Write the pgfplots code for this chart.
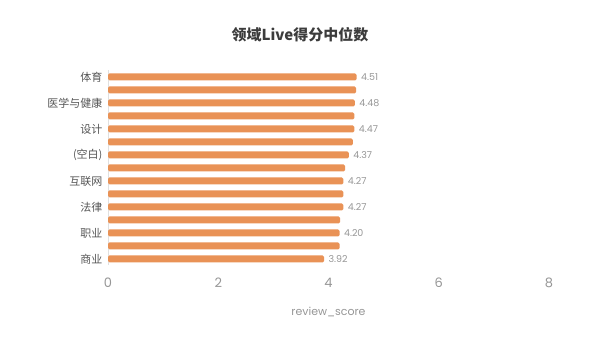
\documentclass[border=0pt]{standalone}
\usepackage{pgfplots}
\pgfplotsset{compat=1.18}
\usepackage{fontspec}
\setmainfont{Poppins}
\newfontfamily\cjk{Noto Sans CJK SC}
\definecolor{barc}{RGB}{233,146,86}
\definecolor{tickc}{RGB}{150,150,150}
\definecolor{labc}{RGB}{85,85,85}
\definecolor{titc}{RGB}{60,60,60}
\begin{document}
\begin{tikzpicture}[x=1pt,y=1pt]
\useasboundingbox (0,0) rectangle (600,356);
\node[font=\cjk\bfseries\fontsize{15}{17}\selectfont, text=titc] at (300,321) {领域Live得分中位数};
\begin{axis}[
  at={(108pt,90.5pt)}, anchor=south west,
  scale only axis, width=441pt, height=195pt,
  xmin=0, xmax=8, ymin=-0.5, ymax=14.5,
  xtick={0,2,4,6,8},
  ytick={0,...,14},
  yticklabels={商业,,职业,,法律,,互联网,,(空白),,设计,,医学与健康,,体育},
  axis x line*=bottom,
  x axis line style={draw=none},
  axis y line*=left,
  y axis line style={draw=black!12, line width=0.8pt, -},
  major tick length=0pt,
  /pgf/number format/assume math mode=true,
  xticklabel style={font=\fontsize{13}{15}\selectfont, text=tickc, yshift=-9pt},
  yticklabel style={font=\cjk\fontsize{11}{13}\selectfont, text=labc, xshift=-2pt},
  xlabel={review\_score},
  xlabel style={font=\fontsize{11}{13}\selectfont, text=tickc, yshift=-12pt},
  xbar, bar width=7pt, bar shift=0pt,
  clip=false,
]
\addplot[fill=barc, draw=none, rounded corners=1.5pt,
  nodes near coords, nodes near coords align={horizontal},
  every node near coord/.append style={font=\fontsize{9.5}{11}\selectfont, text=tickc, xshift=1pt},
  /pgf/number format/.cd, fixed, fixed zerofill, precision=2]
  coordinates {(3.92,0) (4.20,2) (4.27,4) (4.27,6) (4.37,8) (4.47,10) (4.48,12) (4.51,14)};
\addplot[fill=barc, draw=none, rounded corners=1.5pt]
  coordinates {(4.20,1) (4.21,3) (4.27,5) (4.30,7) (4.44,9) (4.47,11) (4.50,13)};
\end{axis}
\end{tikzpicture}
\end{document}
